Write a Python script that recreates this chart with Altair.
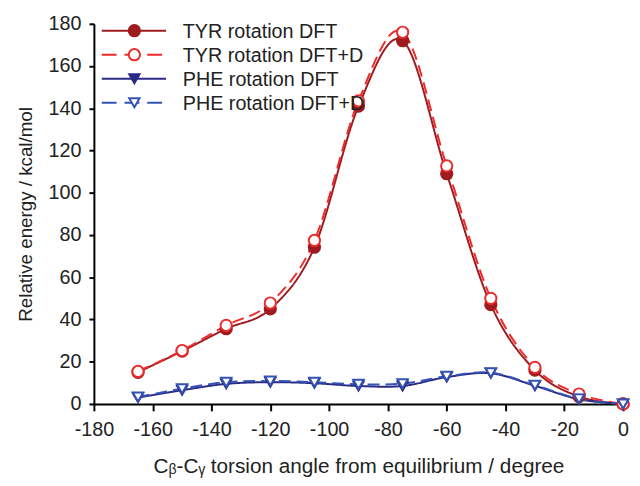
import altair as alt
import pandas as pd

angles = [-165, -150, -135, -120, -105, -90, -75, -60, -45, -30, -15, 0]
tyr_dft = [15, 25, 35.6, 45, 74.2, 141, 172, 109, 47, 16, 3.5, 0]
tyr_dftd = [15.4, 25.3, 37.2, 47.8, 77.4, 143.5, 176, 112.7, 50, 17.3, 4.7, 0]
phe_dft = [3, 6.5, 9.5, 10.3, 9.8, 8.5, 8.5, 12.7, 14.5, 8.6, 2.2, 0]
phe_dftd = [3.3, 7.2, 10.3, 10.9, 10.3, 9.3, 9.6, 13.1, 14.8, 8.9, 2.4, 0]

names = ["TYR rotation DFT", "TYR rotation DFT+D", "PHE rotation DFT", "PHE rotation DFT+D"]
values = [tyr_dft, tyr_dftd, phe_dft, phe_dftd]
colors = ["#9e1b20", "#ee2a2a", "#2b2a86", "#3454b4"]
shapes = ["circle", "circle", "triangle-down", "triangle-down"]
filled = [True, False, True, False]
dashed = [False, True, False, True]

x_ticks = list(range(-180, 1, 20))
y_ticks = list(range(0, 181, 20))

FONT = "Liberation Sans"

x_scale = alt.Scale(domain=[-180, 0], nice=False)
y_scale = alt.Scale(domain=[0, 180], nice=False)

label_expr = "datum.value < 0 ? '-' + abs(datum.value) : '' + datum.value"

layers = []
base_df = pd.DataFrame({"angle": angles, "energy": tyr_dft})
axes = alt.Chart(base_df).mark_point(opacity=0).encode(
    x=alt.X("angle:Q", scale=x_scale,
            axis=alt.Axis(values=x_ticks, title="Cᵦ-Cᵧ torsion angle from equilibrium / degree",
                          grid=False, tickSize=7, labelPadding=9, titlePadding=16,
                          titleFontSize=21,
                          labelOverlap=False, labelFlush=False, labelExpr=label_expr)),
    y=alt.Y("energy:Q", scale=y_scale,
            axis=alt.Axis(values=y_ticks, title="Relative energy / kcal/mol",
                          grid=False, tickSize=5, labelPadding=8, titlePadding=13,
                          labelOverlap=False, labelFlush=False, labelExpr=label_expr)),
)
layers.append(axes)

for i, name in enumerate(names):
    df = pd.DataFrame({"angle": angles, "energy": values[i]})
    line = alt.Chart(df).mark_line(
        color=colors[i], strokeWidth=2, interpolate="cardinal", tension=0,
        strokeDash=[12, 6] if dashed[i] else [1, 0],
    ).encode(x=alt.X("angle:Q", scale=x_scale), y=alt.Y("energy:Q", scale=y_scale))
    layers.append(line)

for i, name in enumerate(names):
    df = pd.DataFrame({"angle": angles, "energy": values[i]})
    pt = alt.Chart(df).mark_point(
        shape=shapes[i], size=130 if shapes[i] == "circle" else 110,
        filled=True,
        fill=colors[i] if filled[i] else "white",
        stroke=colors[i], strokeWidth=2, opacity=1,
    ).encode(x=alt.X("angle:Q", scale=x_scale), y=alt.Y("energy:Q", scale=y_scale))
    layers.append(pt)

# legend
for i, name in enumerate(names):
    ldf = pd.DataFrame({"label": [name]})
    yv = 7 + i * 24.3
    rule = alt.Chart(ldf).mark_rule(
        color=colors[i], strokeWidth=2,
        strokeDash=[15, 8] if dashed[i] else [1, 0],
    ).encode(x=alt.value(8), x2=alt.value(73), y=alt.value(yv))
    sym = alt.Chart(ldf).mark_point(
        shape=shapes[i], size=130 if shapes[i] == "circle" else 110,
        filled=True,
        fill=colors[i] if filled[i] else "white",
        stroke=colors[i], strokeWidth=2, opacity=1,
    ).encode(x=alt.value(41), y=alt.value(yv))
    txt = alt.Chart(ldf).mark_text(
        align="left", baseline="middle", font=FONT, fontSize=20, color="#222222",
    ).encode(x=alt.value(90), y=alt.value(yv + 1), text="label:N")
    layers += [rule, sym, txt]

chart = alt.layer(*layers).properties(
    width=536, height=385,
    autosize=alt.AutoSizeParams(type="none"),
    padding={"left": 87, "top": 13, "right": 9, "bottom": 72},
).configure_view(stroke=None).configure_axis(
    domainColor="#000000", domainWidth=2, tickColor="#000000", tickWidth=2,
    labelFont=FONT, labelFontSize=20, labelColor="#222222",
    titleFont=FONT, titleFontSize=19, titleColor="#222222", titleFontWeight="normal",
)

chart.save("out.html", embed_options={"renderer": "svg", "actions": False})
